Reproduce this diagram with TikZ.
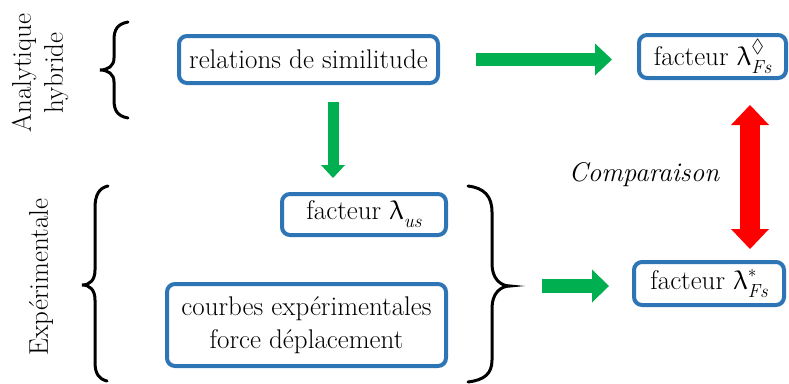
\documentclass[tikz,border=0pt]{standalone}
\usepackage{fontspec}
\usepackage{amssymb}
\usepackage{upgreek}
\usetikzlibrary{arrows.meta,calc}
\definecolor{boxblue}{RGB}{46,117,182}
\definecolor{arrgreen}{RGB}{0,176,80}
\definecolor{arrred}{RGB}{255,0,0}
\newcommand{\lam}{$\uplambda$}
\newcommand{\lamsup}[2]{\lam\rlap{\raisebox{0.45em}{\fontsize{19}{19}\selectfont #1}}\raisebox{-0.3em}{\fontsize{19}{19}\selectfont\itshape #2}}
\newcommand{\lamsub}[1]{\lam\raisebox{-0.3em}{\fontsize{19}{19}\selectfont\itshape #1}}
\begin{document}
\begin{tikzpicture}[x=1pt,y=-1pt,
  box/.style={draw=boxblue,line width=4pt,rounded corners=8pt,fill=white,inner sep=0pt,align=center,font=\fontsize{27}{33}\selectfont},
  garrow/.style={draw=arrgreen,line width=13pt,-{Triangle[length=17pt,width=32pt,line width=0pt]}},
  rarrow/.style={draw=arrred,line width=20pt,{Triangle[length=20pt,width=38pt,line width=0pt]}-{Triangle[length=20pt,width=38pt,line width=0pt]}},
  brace/.style={draw=black,line width=3pt,line cap=round},
  lbl/.style={font=\fontsize{27}{32}\selectfont,align=center,inner sep=0pt}]
\useasboundingbox (0,0) rectangle (789,383);
% boxes
\node[box,minimum width=259pt,minimum height=47pt] (rel) at (308.5,59.5) {relations de similitude};
\node[box,minimum width=147pt,minimum height=43pt] (fd) at (712.5,56.5) {facteur \lamsup{$\Diamond$}{Fs}};
\node[box,minimum width=150pt,minimum height=43pt] (fs) at (709,283.5) {facteur \lamsup{$\ast$}{Fs}};
\node[box,minimum width=164pt,minimum height=41pt] (fus) at (364,214.5) {facteur \lamsub{us}};
\node[box,minimum width=279pt,minimum height=82pt] (cb) at (306.5,325) {courbes expérimentales\\force déplacement};
% labels
\node[lbl,rotate=90] (ana) at (40,73) {Analytique\\hybride};
\node[lbl,rotate=90] (exp) at (41,277) {Expérimentale};
\node[lbl,font=\fontsize{27}{32}\selectfont\itshape] (cmp) at (644,175) {Comparaison};
% braces
\draw[brace] (128,22) .. controls (117,24) and (114,30) .. (114,40) -- (114,58) .. controls (114,66) and (108,70) .. (100,70) coordinate (lbt) .. controls (108,70) and (114,74) .. (114,82) -- (114,100) .. controls (114,110) and (117,116) .. (128,118);
\draw[brace] (108,186) .. controls (99,188) and (95,195) .. (95,208) -- (95,270) .. controls (95,280) and (90,285) .. (82,285) coordinate (lbb) .. controls (90,285) and (95,290) .. (95,300) -- (95,362) .. controls (95,374) and (99,379) .. (107,381);
\draw[brace] (468,186) .. controls (484,188) and (492,196) .. (492,212) -- (492,264) .. controls (492,278) and (500,286) .. (510,286) coordinate (rb) .. controls (500,286) and (492,294) .. (492,308) -- (492,360) .. controls (492,374) and (484,380) .. (468,382);
% arrows
\coordinate (as) at ([xshift=36pt]rel.east);
\coordinate (ae) at ([xshift=-25pt]fd.west);
\draw[garrow] (as) -- (ae |- as);
\coordinate (ds) at ([xshift=24.5pt,yshift=-17pt]rel.south);
\coordinate (de) at ([yshift=14pt]fus.north);
\draw[garrow,line width=11pt,-{Triangle[length=13pt,width=24pt,line width=0pt]}] (ds) -- (ds |- de);
\coordinate (bs) at ([xshift=32pt]rb);
\coordinate (be) at ([xshift=-23pt]fs.west);
\draw[garrow,line width=14pt,-{Triangle[length=17pt,width=33pt,line width=0pt]}] (bs) -- (be |- bs);
\coordinate (rx) at (750,0);
\coordinate (rs0) at ([yshift=-25pt]fd.south);
\coordinate (re0) at ([yshift=11pt]fs.north);
\draw[rarrow] (rx |- rs0) -- (rx |- re0);
\end{tikzpicture}
\end{document}
